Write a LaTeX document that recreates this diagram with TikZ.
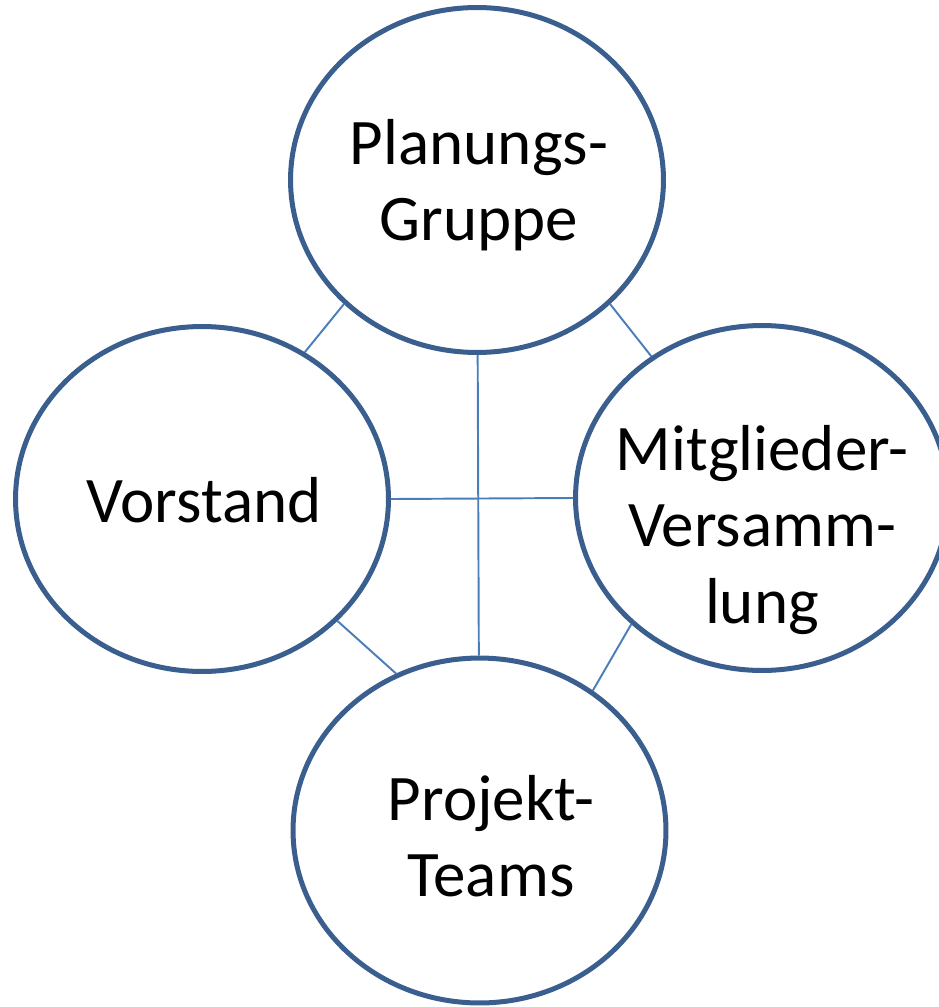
\documentclass[tikz,border=0pt]{standalone}
\usepackage{fontspec}
\setmainfont{Carlito}
\definecolor{ringblue}{HTML}{3A5F8F}
\definecolor{linkblue}{HTML}{4A7EBB}
\tikzset{
  ring/.style={ellipse, draw=ringblue, line width=2.85pt, minimum width=7.46cm, minimum height=6.9cm, inner sep=0pt},
  link/.style={draw=linkblue, line width=1.1pt},
  label text/.style={align=center, font=\fontsize{37}{43.5}\selectfont}
}
\usetikzlibrary{shapes.geometric}
\begin{document}
\begin{tikzpicture}[x=0.02cm, y=-0.02cm]
            \useasboundingbox (0,0) rectangle (938,1007);

            \node[ring] (plan) at (477,180) {};
            \node[ring] (vor) at (202,499) {};
            \node[ring] (mit) at (762,498) {};
            \node[ring] (proj) at (479.5,830.5) {};

            \draw[link] (plan) -- (proj);
            \draw[link] (vor.east) -- (mit.west);
            \draw[link] (plan.223) -- (vor.55);
            \draw[link] (plan.317) -- (mit.128);
            \draw[link] (vor.318) -- (proj.118);
            \draw[link] (mit.224) -- (proj.51);

            \node[label text] (plantext) at (479,185) {Planungs-\\Gruppe};
            \node[label text] (vortext) at (204,500) {Vorstand};
            \node[label text] (mittext) at (762,530) {Mitglieder-\\Versamm-\\lung};
            \node[label text] (projtext) at (491,836) {Projekt-\\Teams};

        \end{tikzpicture}
\end{document}
